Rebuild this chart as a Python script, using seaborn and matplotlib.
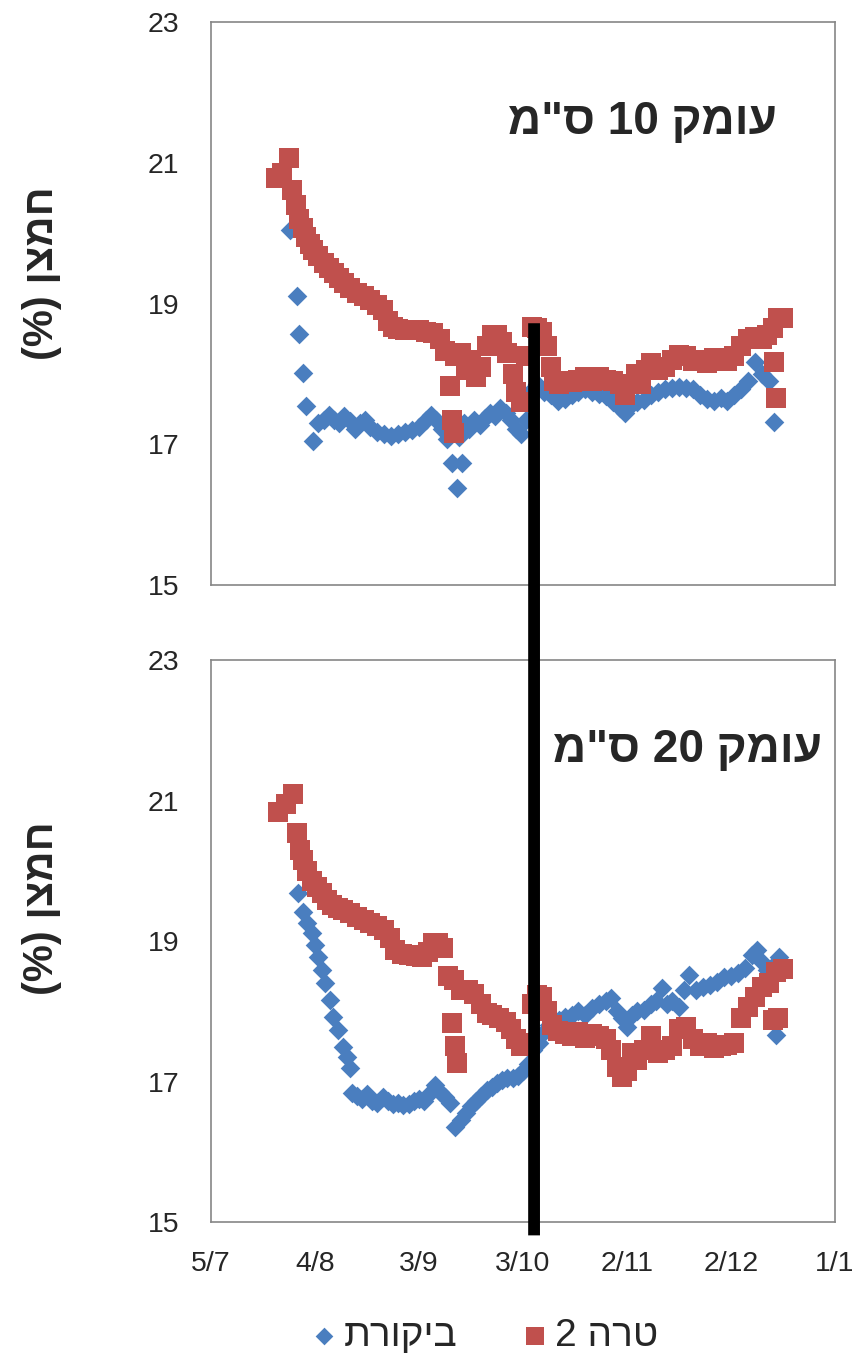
import matplotlib
matplotlib.use("Agg")
import matplotlib.pyplot as plt
from matplotlib.patches import ConnectionPatch
import seaborn as sns
import pandas as pd

# days counted from 5/7 (5 July)
tick_days = [0, 30, 60, 90, 120, 150, 180]
tick_labels = ["5/7", "4/8", "3/9", "3/10", "2/11", "2/12", "1/1"]
y_ticks = [15, 17, 19, 21, 23]

# depth 10 cm - "טרה 2"
red10_days = [18.7, 20.5, 22.5, 23.5, 24.5, 25.5, 26.5, 27.5, 28.5, 29.5, 31, 32.5, 34, 35.5,
              37, 38.5, 40, 42, 44, 46, 48, 49.5, 51, 52.5, 54, 56, 58, 60, 62, 64, 66, 67.5,
              69, 69.5, 70, 70.5, 72, 73.5, 75, 76.5, 78, 79.5, 81, 82.5, 84, 85.5, 87, 88,
              89.5, 91, 92.5, 94, 95.5, 97, 98, 99, 100.5, 102, 104, 106, 108, 110, 112, 114,
              116, 118, 119.5, 121, 122.5, 124, 125.5, 127, 129, 131, 133, 135, 137, 139, 141,
              143, 145, 147, 149, 151, 153, 155, 157, 159, 160.5, 162, 163.5, 165, 162.5, 163]
red10_vals = [20.78, 20.85, 21.07, 20.62, 20.40, 20.20, 20.08, 19.95, 19.85, 19.76, 19.68, 19.58,
              19.50, 19.43, 19.36, 19.29, 19.22, 19.15, 19.10, 19.05, 18.98, 18.91, 18.75, 18.66,
              18.64, 18.62, 18.63, 18.62, 18.60, 18.58, 18.50, 18.32, 17.83, 17.35, 17.16, 18.25,
              18.30, 18.05, 18.20, 17.95, 18.10, 18.40, 18.55, 18.55, 18.45, 18.30, 18.00, 17.75,
              17.60, 18.25, 18.67, 18.65, 18.60, 18.40, 18.10, 17.90, 17.85, 17.90, 17.88, 17.92,
              17.95, 17.90, 17.95, 17.92, 17.90, 17.85, 17.70, 17.85, 18.00, 17.85, 18.05, 18.15,
              18.05, 18.10, 18.20, 18.27, 18.25, 18.18, 18.20, 18.15, 18.22, 18.20, 18.18, 18.25,
              18.40, 18.50, 18.52, 18.50, 18.55, 18.65, 18.79, 18.80, 18.17, 17.66]

# depth 10 cm - "ביקורת"
blue10_days = [22.8, 24.7, 25.5, 26.6, 27.4, 29.5, 31, 32.5, 34, 35.5, 37, 38.5, 40, 41.5, 43,
               44.5, 46, 48, 50, 52, 54, 56, 58, 60, 62, 63.5, 65, 66.5, 68, 69.4, 70.9, 72.3,
               71.5, 73, 74.5, 76, 77.5, 79, 80.5, 82, 83.5, 85, 86.5, 88, 89.5, 91, 92.5, 94,
               96, 98, 100, 102, 104, 106, 108, 110, 112, 114, 116, 118, 119.5, 121, 123, 125,
               127, 129, 131, 133, 135, 137, 139, 141, 143, 145, 147, 149, 151, 153, 155, 157,
               159, 161, 162.5]
blue10_vals = [20.05, 19.10, 18.56, 18.02, 17.54, 17.04, 17.30, 17.35, 17.42, 17.35, 17.30, 17.40,
               17.33, 17.22, 17.30, 17.35, 17.25, 17.18, 17.15, 17.12, 17.15, 17.18, 17.20, 17.25,
               17.35, 17.42, 17.35, 17.22, 17.08, 16.73, 16.38, 16.73, 17.10, 17.30, 17.22, 17.35,
               17.28, 17.38, 17.45, 17.40, 17.52, 17.45, 17.35, 17.22, 17.15, 17.35, 17.77, 17.85,
               17.75, 17.70, 17.62, 17.65, 17.70, 17.75, 17.78, 17.75, 17.72, 17.68, 17.60, 17.52,
               17.45, 17.55, 17.60, 17.63, 17.70, 17.75, 17.78, 17.80, 17.82, 17.80, 17.78, 17.70,
               17.65, 17.62, 17.66, 17.62, 17.70, 17.78, 17.90, 18.17, 18.00, 17.90, 17.32]

# depth 20 cm - "טרה 2"
red20_days = [19.3, 21.5, 23.6, 24.8, 25.7, 26.6, 27.6, 29.2, 30.5, 32, 33.5, 35, 36.5, 38, 40,
              42, 44, 46, 48, 50, 51.5, 53, 55, 57, 59, 61, 62.5, 64, 65.5, 67, 68.5, 69.5,
              70.5, 71, 70, 72, 74, 76, 78, 79.5, 81, 83, 85, 86.5, 88, 89.5, 91, 92.5, 94,
              95.5, 97, 98.5, 100, 102, 104, 106, 108, 110, 112, 114, 115.5, 117, 118.5, 120,
              121.5, 123, 125, 127, 129, 131, 133, 135, 137, 139, 141, 143, 145, 147, 149, 151,
              153, 155, 157, 159, 161, 163, 165, 162, 163.5]
red20_vals = [20.84, 20.95, 21.10, 20.54, 20.30, 20.15, 20.00, 19.85, 19.77, 19.68, 19.58, 19.52,
              19.47, 19.44, 19.40, 19.34, 19.30, 19.25, 19.22, 19.16, 19.05, 18.87, 18.82, 18.80,
              18.78, 18.77, 18.85, 18.97, 18.97, 18.90, 18.50, 17.83, 17.50, 17.26, 18.45, 18.30,
              18.30, 18.25, 18.10, 17.97, 17.95, 17.90, 17.85, 17.75, 17.60, 17.50, 17.55, 18.10,
              18.23, 18.20, 18.00, 17.80, 17.72, 17.68, 17.65, 17.70, 17.62, 17.68, 17.65, 17.60,
              17.45, 17.20, 17.06, 17.15, 17.40, 17.30, 17.45, 17.65, 17.40, 17.45, 17.50, 17.75,
              17.78, 17.60, 17.50, 17.55, 17.48, 17.50, 17.52, 17.55, 17.90, 18.06, 18.20, 18.35,
              18.40, 18.56, 18.60, 17.87, 17.90]

# depth 20 cm - "ביקורת"
blue20_days = [25.1, 26.5, 27.7, 29.1, 30, 30.9, 32, 32.9, 34.3, 35.2, 36.6, 38.1, 39.2, 40.1,
               40.7, 42, 43.5, 45, 46.5, 48, 49.5, 51, 52.5, 54, 55.5, 57, 58.5, 60, 61.5, 63,
               64.5, 66, 67.5, 69, 70.5, 72, 73.5, 75, 76.5, 78, 79.5, 81, 82.5, 84, 85.5, 87,
               88.5, 90, 91.5, 93, 94.5, 96, 97.5, 99, 100.5, 102, 104, 106, 108, 110, 112, 114,
               115.5, 117, 118.5, 120, 121.5, 123, 125, 127, 128.5, 130, 131.5, 133, 135, 136.5,
               138, 140, 142, 144, 146, 148, 150, 152, 154, 156, 157.5, 159, 160.5, 162, 164, 163]
blue20_vals = [19.68, 19.41, 19.25, 19.11, 18.94, 18.77, 18.59, 18.40, 18.16, 17.92, 17.73, 17.49,
               17.35, 17.19, 16.84, 16.80, 16.75, 16.82, 16.72, 16.70, 16.78, 16.72, 16.68, 16.70,
               16.67, 16.68, 16.72, 16.75, 16.72, 16.82, 16.95, 16.85, 16.78, 16.70, 16.35, 16.45,
               16.55, 16.65, 16.72, 16.80, 16.88, 16.92, 16.98, 17.02, 17.05, 17.05, 17.08, 17.15,
               17.25, 17.45, 17.55, 17.70, 17.80, 17.85, 17.88, 17.92, 17.95, 18.00, 17.95, 18.05,
               18.10, 18.15, 18.19, 18.00, 17.90, 17.78, 17.95, 18.00, 18.02, 18.10, 18.15, 18.33,
               18.10, 18.15, 18.06, 18.30, 18.52, 18.30, 18.35, 18.38, 18.42, 18.49, 18.50, 18.55,
               18.62, 18.80, 18.87, 18.70, 18.59, 18.65, 18.77, 17.66]

# Hebrew strings written in visual (left-to-right) order
title10 = 'מ"ס 10 קמוע'
title20 = 'מ"ס 20 קמוע'
ylabel = "(%) ןצמח"
label_control = "תרוקיב"
label_terra = "2 הרט"

BLUE = "#4A7EBF"
RED = "#C0504D"
GRID = "#868686"

sns.set_style("white")
plt.rcParams["font.family"] = ["Liberation Sans", "DejaVu Sans"]

fig = plt.figure(figsize=(8.63, 13.66), dpi=100)
ax1 = fig.add_axes([0.2445, 0.5717, 0.7230, 0.4122])
ax2 = fig.add_axes([0.2445, 0.1054, 0.7230, 0.4114])

panels = [
    (ax1, blue10_days, blue10_vals, red10_days, red10_vals, title10, (0.745, 0.911)),
    (ax2, blue20_days, blue20_vals, red20_days, red20_vals, title20, (0.797, 0.451)),
]

for ax, bd, bv, rd, rv, title, pos in panels:
    blue = pd.DataFrame({"day": bd, "o2": bv})
    red = pd.DataFrame({"day": rd, "o2": rv})
    sns.scatterplot(data=blue, x="day", y="o2", ax=ax, marker="D", s=100,
                    color=BLUE, linewidth=0, label=label_control, legend=False)
    sns.scatterplot(data=red, x="day", y="o2", ax=ax, marker="s", s=200,
                    color=RED, linewidth=0, label=label_terra, legend=False)
    ax.set_xlim(0, 180)
    ax.set_ylim(15, 23)
    ax.set_yticks(y_ticks)
    ax.set_xticks(tick_days)
    ax.set_xlabel("")
    ax.set_ylabel("")
    for sp in ax.spines.values():
        sp.set_color(GRID)
        sp.set_linewidth(1.2)
    ax.tick_params(axis="both", direction="out", length=9, width=1.2, color=GRID,
                   labelsize=20.5, labelcolor="#262626")
    ax.tick_params(axis="y", pad=14)
    ax.tick_params(axis="x", pad=12)
    fig.text(pos[0], pos[1], title, ha="center", va="center", fontsize=33,
             fontweight="bold")

ax1.set_xticklabels([])
ax2.set_xticklabels(tick_labels)

fig.text(0.049, 0.80, ylabel, rotation=90, ha="center", va="center",
         fontsize=30, fontweight="bold")
fig.text(0.049, 0.335, ylabel, rotation=90, ha="center", va="center",
         fontsize=30, fontweight="bold")

# thick divider marking the treatment date, crossing both panels
divider = ConnectionPatch(xyA=(93.2, 18.72), coordsA=ax1.transData,
                          xyB=(93.2, 14.81), coordsB=ax2.transData,
                          color="black", linewidth=8.5, capstyle="butt")
fig.add_artist(divider)

handles, labels = ax2.get_legend_handles_labels()
fig.legend(handles, labels, loc="center", bbox_to_anchor=(0.56, 0.022), ncol=2,
           frameon=False, fontsize=28, handletextpad=0.1, columnspacing=1.6,
           markerscale=0.9, handlelength=0.8)

fig.savefig("out.png", dpi=100, facecolor="white")
